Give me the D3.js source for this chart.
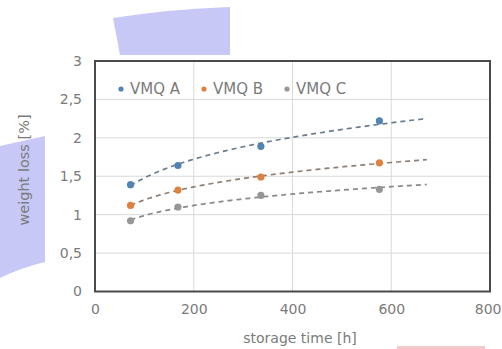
<!DOCTYPE html>
<html>
<head>
<meta charset="utf-8">
<script src="https://cdn.jsdelivr.net/npm/d3@7"></script>
<style>
  html, body { margin: 0; padding: 0; background: #fff; }
  svg { display: block; }
</style>
</head>
<body>
<div id="chart"></div>
<script>
// data
const hours = [72, 168, 336, 576];
const vmqA = [1.39, 1.64, 1.89, 2.22];
const vmqB = [1.12, 1.32, 1.49, 1.675];
const vmqC = [0.92, 1.10, 1.25, 1.33];
const seriesNames = ["VMQ A", "VMQ B", "VMQ C"];
const xTicks = [0, 200, 400, 600, 800];
const yTicks = [0, 0.5, 1, 1.5, 2, 2.5, 3];
const trendEnd = 672; // trendlines run forward past last point

const config = {
  width: 502,
  height: 349,
  plot: {left: 95, right: 490, top: 61, bottom: 291.5},
  colors: {
    marker: ["#5283b5", "#e0823f", "#969696"],
    trend: ["#687d91", "#8c7f73", "#888888"],
    grid: "#dadada",
    frame: "#4a4a4a",
    text: "#7b7b7b"
  },
  font: "'DejaVu Sans', Verdana, sans-serif"
};

const series = [vmqA, vmqB, vmqC];

const svg = d3.select("#chart")
  .append("svg")
  .attr("width", config.width)
  .attr("height", config.height)
  .attr("viewBox", [0, 0, config.width, config.height]);

// scan artefacts behind the chart
svg.append("path")
  .attr("d", "M113,18 Q170,9 230,7 L230,55 L120,55 Z")
  .attr("fill", "#c8c8f7");
svg.append("path")
  .attr("d", "M0,146 L45,136 L45,262 Q20,268 0,278 Z")
  .attr("fill", "#c8c8f7");
svg.append("rect")
  .attr("x", 397).attr("y", 346).attr("width", 88).attr("height", 3)
  .attr("fill", "#f6caca");

const x = d3.scaleLinear([0, 800], [config.plot.left, config.plot.right]);
const y = d3.scaleLinear([0, 3], [config.plot.bottom, config.plot.top]);

// grid
svg.append("g")
  .selectAll("line")
  .data(yTicks.slice(1, -1))
  .join("line")
  .attr("x1", config.plot.left).attr("x2", config.plot.right)
  .attr("y1", d => y(d)).attr("y2", d => y(d))
  .attr("stroke", config.colors.grid);

svg.append("g")
  .selectAll("line")
  .data(xTicks.slice(1, -1))
  .join("line")
  .attr("y1", config.plot.top).attr("y2", config.plot.bottom)
  .attr("x1", d => x(d)).attr("x2", d => x(d))
  .attr("stroke", config.colors.grid);

// axes (labels only, frame drawn below)
const xAxis = d3.axisBottom(x).tickValues(xTicks).tickSize(0).tickPadding(13);
const yAxis = d3.axisLeft(y).tickValues(yTicks).tickSize(0).tickPadding(13)
  .tickFormat(d => String(d).replace(".", ","));

svg.append("g")
  .attr("transform", `translate(0,${config.plot.bottom})`)
  .call(xAxis)
  .call(g => g.select(".domain").remove())
  .call(g => g.selectAll("text")
    .attr("font-family", config.font)
    .attr("font-size", 14)
    .attr("fill", config.colors.text))
  .call(g => g.selectAll(".tick:last-of-type text") // keep 800 inside the page
    .attr("text-anchor", "end")
    .attr("dx", 11));

svg.append("g")
  .attr("transform", `translate(${config.plot.left},0)`)
  .call(yAxis)
  .call(g => g.select(".domain").remove())
  .call(g => g.selectAll("text")
    .attr("font-family", config.font)
    .attr("font-size", 14)
    .attr("fill", config.colors.text));

// power trendlines, least squares on ln(x), ln(y)
function powerFit(xs, ys) {
  const lx = xs.map(Math.log);
  const ly = ys.map(Math.log);
  const mx = d3.mean(lx), my = d3.mean(ly);
  const sxy = d3.sum(lx, (v, i) => (v - mx) * (ly[i] - my));
  const sxx = d3.sum(lx, v => (v - mx) ** 2);
  const b = sxy / sxx;
  const a = Math.exp(my - b * mx);
  return t => a * Math.pow(t, b);
}

const line = d3.line().x(d => x(d[0])).y(d => y(d[1]));

series.forEach((vals, s) => {
  const f = powerFit(hours, vals);
  const pts = d3.range(hours[0], trendEnd + 1, 6).map(t => [t, f(t)]);
  svg.append("path")
    .attr("d", line(pts))
    .attr("fill", "none")
    .attr("stroke", config.colors.trend[s])
    .attr("stroke-width", 1.7)
    .attr("stroke-dasharray", "5,4");
});

// markers
series.forEach((vals, s) => {
  svg.append("g")
    .attr("fill", config.colors.marker[s])
    .selectAll("circle")
    .data(vals)
    .join("circle")
    .attr("cx", (d, i) => x(hours[i]))
    .attr("cy", d => y(d))
    .attr("r", 3.6);
});

// frame
svg.append("rect")
  .attr("x", config.plot.left)
  .attr("y", config.plot.top)
  .attr("width", config.plot.right - config.plot.left)
  .attr("height", config.plot.bottom - config.plot.top)
  .attr("fill", "none")
  .attr("stroke", config.colors.frame)
  .attr("stroke-width", 2);

// legend
const legend = svg.append("g")
  .selectAll("g")
  .data(seriesNames)
  .join("g")
  .attr("transform", (d, i) => `translate(${121 + i * 83},89)`);

legend.append("circle")
  .attr("r", 2.6)
  .attr("fill", (d, i) => config.colors.marker[i]);

legend.append("text")
  .attr("x", 9)
  .attr("dy", "0.36em")
  .attr("font-family", config.font)
  .attr("font-size", 15)
  .attr("fill", config.colors.text)
  .text(d => d);

// axis titles
svg.append("text")
  .attr("x", 300)
  .attr("y", 343)
  .attr("text-anchor", "middle")
  .attr("font-family", config.font)
  .attr("font-size", 14)
  .attr("fill", config.colors.text)
  .text("storage time [h]");

svg.append("text")
  .attr("transform", "translate(29,170) rotate(-90)")
  .attr("text-anchor", "middle")
  .attr("font-family", config.font)
  .attr("font-size", 14.5)
  .attr("fill", config.colors.text)
  .text("weight loss [%]");
</script>
</body>
</html>
